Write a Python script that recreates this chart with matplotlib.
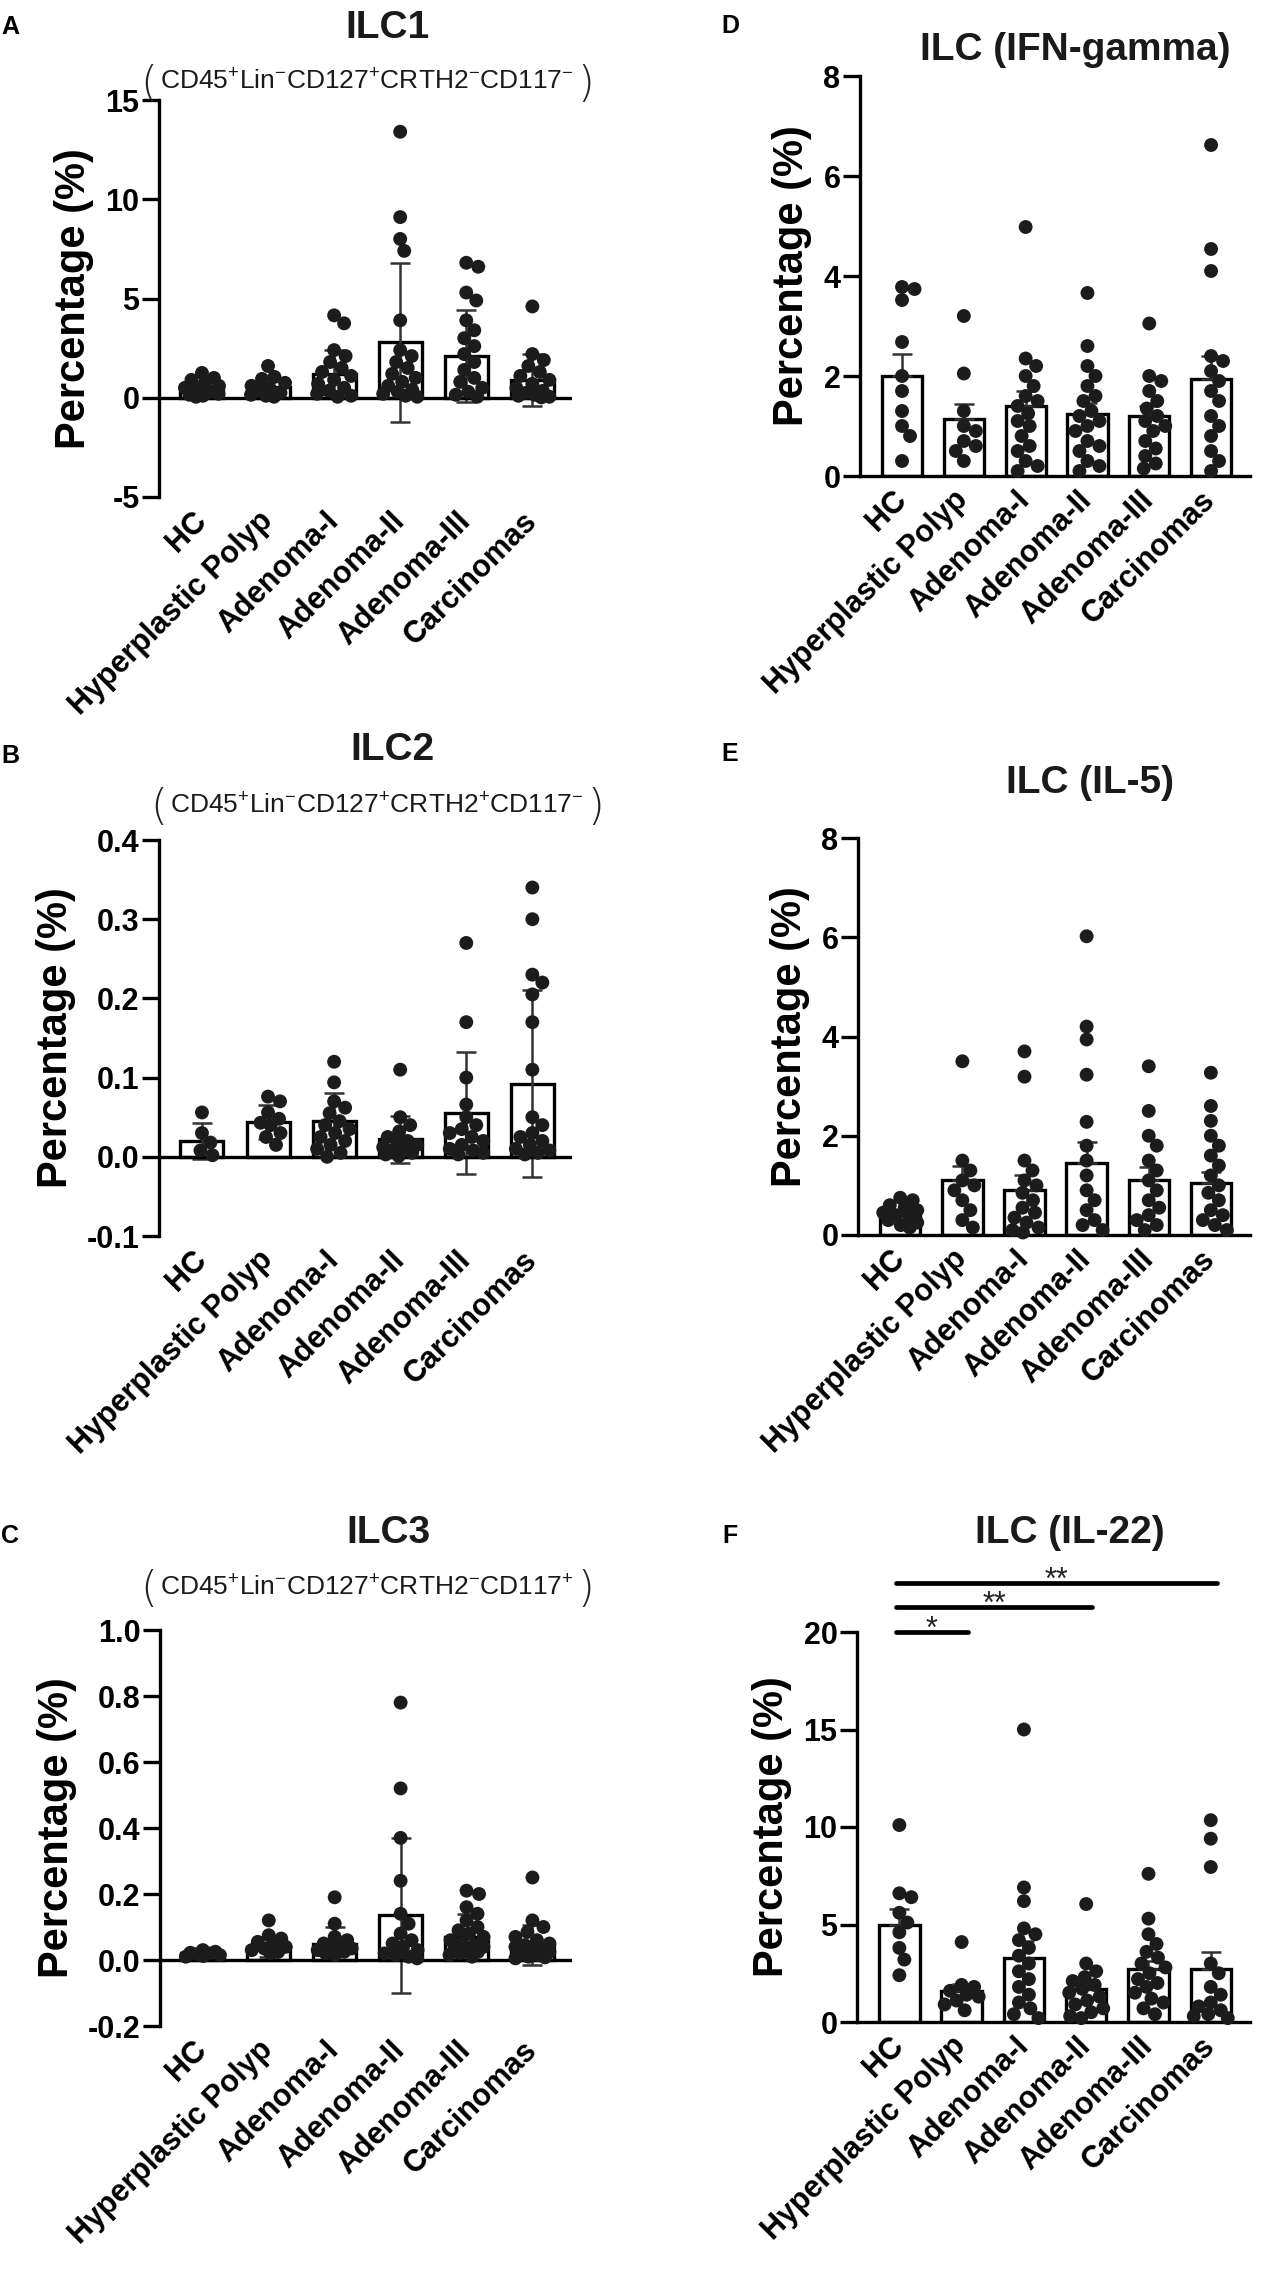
import matplotlib
matplotlib.use('Agg')
import matplotlib.pyplot as plt
import numpy as np

plt.rcParams['font.family'] = ['Liberation Sans', 'DejaVu Sans']
plt.rcParams['axes.unicode_minus'] = False
plt.rcParams['mathtext.fontset'] = 'custom'
plt.rcParams['mathtext.rm'] = 'Liberation Sans'
plt.rcParams['mathtext.it'] = 'Liberation Sans:italic'
plt.rcParams['mathtext.bf'] = 'Liberation Sans:bold'

# ---------------- data ----------------
categories = ['HC', 'Hyperplastic Polyp', 'Adenoma-I', 'Adenoma-II', 'Adenoma-III', 'Carcinomas']

# A  ILC1
ilc1_hc = [1.25, 1.0, 0.9, 0.75, 0.6, 0.5, 0.4, 0.3, 0.2, 0.15, 0.1, 0.05]
ilc1_hp = [1.6, 1.05, 0.95, 0.75, 0.6, 0.45, 0.35, 0.25, 0.15, 0.1, 0.05]
ilc1_a1 = [4.15, 3.75, 2.4, 2.1, 1.8, 1.5, 1.3, 1.1, 0.9, 0.7, 0.5, 0.35, 0.2, 0.1, 0.05]
ilc1_a2 = [13.4, 9.1, 8.0, 7.4, 3.9, 2.4, 2.1, 1.8, 1.5, 1.2, 1.0, 0.8, 0.6, 0.4, 0.3, 0.2, 0.1, 0.05]
ilc1_a3 = [6.8, 6.6, 5.3, 4.9, 3.9, 3.4, 3.0, 2.6, 2.2, 1.8, 1.4, 1.0, 0.8, 0.5, 0.3, 0.15, 0.05]
ilc1_ca = [4.6, 2.2, 1.9, 1.6, 1.3, 1.1, 0.9, 0.7, 0.5, 0.35, 0.25, 0.15, 0.1, 0.05, 0.02]
ilc1_mean = [0.5, 0.55, 1.2, 2.8, 2.1, 0.9]
ilc1_sd = [0.35, 0.45, 1.2, 4.0, 2.3, 1.3]

# B  ILC2
ilc2_hc = [0.056, 0.030, 0.018, 0.008, 0.002]
ilc2_hp = [0.076, 0.070, 0.056, 0.048, 0.043, 0.040, 0.030, 0.025, 0.015]
ilc2_a1 = [0.12, 0.094, 0.07, 0.062, 0.055, 0.045, 0.04, 0.035, 0.03, 0.025, 0.02, 0.015, 0.01, 0.005, 0.0]
ilc2_a2 = [0.11, 0.05, 0.04, 0.032, 0.025, 0.02, 0.018, 0.015, 0.012, 0.01, 0.008, 0.005, 0.003, 0.001]
ilc2_a3 = [0.27, 0.17, 0.10, 0.066, 0.05, 0.04, 0.035, 0.03, 0.025, 0.02, 0.015, 0.01, 0.008, 0.005, 0.003]
ilc2_ca = [0.34, 0.30, 0.23, 0.22, 0.205, 0.17, 0.11, 0.05, 0.04, 0.03, 0.025, 0.02, 0.015, 0.01, 0.008, 0.005, 0.003]
ilc2_mean = [0.02, 0.044, 0.045, 0.022, 0.055, 0.092]
ilc2_sd = [0.023, 0.022, 0.035, 0.03, 0.077, 0.118]

# C  ILC3
ilc3_hc = [0.03, 0.025, 0.022, 0.02, 0.018, 0.015, 0.012, 0.01]
ilc3_hp = [0.12, 0.075, 0.065, 0.055, 0.045, 0.04, 0.035, 0.03, 0.025, 0.02]
ilc3_a1 = [0.19, 0.11, 0.07, 0.06, 0.05, 0.045, 0.04, 0.035, 0.03, 0.025, 0.02, 0.015]
ilc3_a2 = [0.78, 0.52, 0.37, 0.24, 0.14, 0.11, 0.08, 0.06, 0.05, 0.04, 0.03, 0.02, 0.015, 0.01, 0.005]
ilc3_a3 = [0.21, 0.20, 0.16, 0.14, 0.12, 0.1, 0.09, 0.08, 0.07, 0.06, 0.05, 0.045, 0.04, 0.035, 0.03, 0.025, 0.02, 0.015, 0.01]
ilc3_ca = [0.25, 0.12, 0.1, 0.085, 0.07, 0.06, 0.05, 0.045, 0.04, 0.035, 0.03, 0.025, 0.02, 0.015, 0.01, 0.008, 0.005]
ilc3_mean = [0.02, 0.04, 0.05, 0.135, 0.07, 0.045]
ilc3_sd = [0.007, 0.03, 0.05, 0.235, 0.07, 0.06]

# D  ILC (IFN-gamma)
ifn_hc = [3.78, 3.74, 3.52, 2.68, 2.0, 1.7, 1.3, 1.0, 0.8, 0.3]
ifn_hp = [3.2, 2.05, 1.3, 1.0, 0.9, 0.7, 0.6, 0.5, 0.3]
ifn_a1 = [4.98, 2.35, 2.2, 2.0, 1.8, 1.6, 1.5, 1.4, 1.25, 1.1, 1.0, 0.8, 0.6, 0.5, 0.3, 0.2, 0.1]
ifn_a2 = [3.66, 2.6, 2.2, 2.0, 1.8, 1.6, 1.5, 1.3, 1.2, 1.1, 1.0, 0.9, 0.7, 0.6, 0.5, 0.3, 0.2, 0.1]
ifn_a3 = [3.05, 2.0, 1.9, 1.7, 1.5, 1.35, 1.2, 1.1, 1.0, 0.9, 0.7, 0.55, 0.4, 0.25, 0.15]
ifn_ca = [6.62, 4.54, 4.1, 2.4, 2.3, 2.1, 1.9, 1.7, 1.5, 1.2, 1.0, 0.8, 0.5, 0.3, 0.1]
ifn_mean = [2.0, 1.15, 1.4, 1.25, 1.2, 1.95]
ifn_sem = [0.45, 0.3, 0.3, 0.22, 0.2, 0.45]

# E  ILC (IL-5)
il5_hc = [0.75, 0.7, 0.6, 0.55, 0.5, 0.45, 0.4, 0.35, 0.3, 0.25, 0.2, 0.15]
il5_hp = [3.5, 1.5, 1.3, 1.1, 1.0, 0.9, 0.7, 0.5, 0.3, 0.15]
il5_a1 = [3.7, 3.19, 1.5, 1.3, 1.1, 1.0, 0.85, 0.7, 0.55, 0.45, 0.35, 0.25, 0.15, 0.1, 0.05]
il5_a2 = [6.02, 4.2, 3.94, 3.23, 2.28, 1.8, 1.5, 1.2, 0.9, 0.7, 0.5, 0.3, 0.2, 0.1]
il5_a3 = [3.4, 2.5, 2.0, 1.8, 1.5, 1.3, 1.1, 0.9, 0.7, 0.55, 0.4, 0.3, 0.2, 0.1]
il5_ca = [3.27, 2.6, 2.3, 2.0, 1.8, 1.6, 1.4, 1.2, 1.0, 0.85, 0.7, 0.5, 0.4, 0.3, 0.2, 0.1]
il5_mean = [0.4, 1.1, 0.9, 1.45, 1.1, 1.05]
il5_sem = [0.07, 0.3, 0.3, 0.42, 0.27, 0.22]

# F  ILC (IL-22)
il22_hc = [10.1, 6.6, 6.4, 5.6, 5.1, 4.6, 3.8, 3.2, 2.4]
il22_hp = [4.1, 1.9, 1.8, 1.6, 1.4, 1.3, 1.1, 0.9, 0.6]
il22_a1 = [15.0, 6.9, 6.2, 4.8, 4.5, 4.2, 3.8, 3.4, 3.0, 2.6, 2.2, 1.8, 1.4, 1.0, 0.7, 0.4, 0.2]
il22_a2 = [6.05, 3.0, 2.6, 2.3, 2.1, 1.9, 1.7, 1.5, 1.3, 1.1, 0.9, 0.7, 0.5, 0.3, 0.2]
il22_a3 = [7.6, 5.3, 4.5, 4.0, 3.6, 3.3, 3.0, 2.8, 2.5, 2.2, 2.0, 1.8, 1.5, 1.2, 1.0, 0.7, 0.4]
il22_ca = [10.35, 9.4, 7.95, 3.0, 2.5, 1.8, 1.4, 1.0, 0.8, 0.6, 0.4, 0.3, 0.2]
il22_mean = [5.0, 1.6, 3.3, 1.7, 2.7, 2.7]
il22_sem = [0.8, 0.35, 0.85, 0.35, 0.45, 0.9]

# significance comparisons in F: (group from, group to, label)
il22_sig = [(0, 1, '*'), (0, 3, '**'), (0, 5, '**')]
il22_sig_levels = [20.0, 21.3, 22.5]

# ---------------- figure ----------------
W, H = 1261, 2287
fig = plt.figure(figsize=(W / 100, H / 100), dpi=100)
fig.patch.set_facecolor('white')

DOT = '#1c1c1c'


def add_ax(left, top, right, bottom):
    return fig.add_axes([left / W, 1 - bottom / H, (right - left) / W, (bottom - top) / H])


def swarm(vals, ppx, ppy, d_px=13.5, max_half=17.0):
    vals = np.asarray(vals, float)
    order = np.argsort(-vals)
    cands = np.arange(-max_half, max_half + 0.01, 0.5)
    cands = cands[np.argsort(np.abs(cands) + 1e-3 * (cands < 0))]
    placed = []
    offs = np.zeros(len(vals))
    for i in order:
        y = vals[i] * ppy
        best, bestd = 0.0, -1
        for c in cands:
            if not placed:
                best = 0.0
                break
            md = min(np.hypot(c - px, y - py) for px, py in placed)
            if md >= d_px * 0.93:
                best = c
                break
            if md > bestd:
                bestd, best = md, c
        placed.append((best, y))
        offs[i] = best / ppx
    return offs


def panel(box, xlim, ylim, yticks, yfmt, groups, means, errs, both, zero_line):
    ax = add_ax(*box)
    ax.set_xlim(*xlim)
    ax.set_ylim(*ylim)
    ax.patch.set_alpha(0)
    wpx = box[2] - box[0]
    hpx = box[3] - box[1]
    ppx = wpx / (xlim[1] - xlim[0])
    ppy = hpx / (ylim[1] - ylim[0])
    xs = np.arange(len(groups))
    ax.bar(xs, means, width=0.65, facecolor='white', edgecolor='black', linewidth=2.4, zorder=2)
    if both:
        yerr = [errs, errs]
    else:
        yerr = [np.zeros(len(errs)), errs]
    ax.errorbar(xs, means, yerr=yerr, fmt='none', ecolor='#333333', elinewidth=1.8,
                capsize=7, capthick=1.8, zorder=3)
    for i, g in enumerate(groups):
        off = swarm(g, ppx, ppy)
        ax.scatter(i + off, g, s=100, c=DOT, edgecolors='none', zorder=4, clip_on=False)
    for s in ['top', 'right']:
        ax.spines[s].set_visible(False)
    ax.spines['left'].set_linewidth(2.4)
    if zero_line:
        ax.spines['bottom'].set_visible(False)
        ax.axhline(0, color='black', lw=2.4, zorder=3)
    else:
        ax.spines['bottom'].set_linewidth(2.4)
    ax.set_yticks(yticks)
    ax.set_yticklabels([yfmt.format(v) for v in yticks], fontsize=22, fontweight='bold')
    ax.tick_params(axis='y', length=12, width=2.4, pad=2)
    ax.set_xticks(xs)
    ax.set_xticklabels(categories, rotation=45, ha='right', va='center', rotation_mode='anchor',
                       fontsize=22, fontweight='bold')
    ax.tick_params(axis='x', length=0, pad=14)
    ax.set_ylabel('Percentage (%)', fontsize=30, fontweight='bold', labelpad=8)
    return ax


LX = (-0.65, 5.6)
RX = (-0.68, 5.63)

axA = panel((159, 100, 572, 497), LX, (-5, 15), [-5, 0, 5, 10, 15], '{:g}',
            [ilc1_hc, ilc1_hp, ilc1_a1, ilc1_a2, ilc1_a3, ilc1_ca], ilc1_mean, ilc1_sd, True, True)
axB = panel((159, 840, 572, 1236), LX, (-0.1, 0.4), [-0.1, 0.0, 0.1, 0.2, 0.3, 0.4], '{:.1f}',
            [ilc2_hc, ilc2_hp, ilc2_a1, ilc2_a2, ilc2_a3, ilc2_ca], ilc2_mean, ilc2_sd, True, True)
axC = panel((160, 1630, 572, 2026), LX, (-0.2, 1.0), [-0.2, 0.0, 0.2, 0.4, 0.6, 0.8, 1.0], '{:.1f}',
            [ilc3_hc, ilc3_hp, ilc3_a1, ilc3_a2, ilc3_a3, ilc3_ca], ilc3_mean, ilc3_sd, True, True)
axD = panel((860, 76, 1250, 476), RX, (0, 8), [0, 2, 4, 6, 8], '{:g}',
            [ifn_hc, ifn_hp, ifn_a1, ifn_a2, ifn_a3, ifn_ca], ifn_mean, ifn_sem, False, False)
axE = panel((858, 838, 1250, 1235), RX, (0, 8), [0, 2, 4, 6, 8], '{:g}',
            [il5_hc, il5_hp, il5_a1, il5_a2, il5_a3, il5_ca], il5_mean, il5_sem, False, False)
axF = panel((857, 1632, 1250, 2022), RX, (0, 20), [0, 5, 10, 15, 20], '{:g}',
            [il22_hc, il22_hp, il22_a1, il22_a2, il22_a3, il22_ca], il22_mean, il22_sem, False, False)

# significance bars
for (g0, g1, lab), lev in zip(il22_sig, il22_sig_levels):
    axF.plot([g0 - 0.05, g1 + 0.1], [lev, lev], color='black', lw=3.4, solid_capstyle='round',
             clip_on=False, zorder=5)
    axF.text((g0 + g1) / 2 + 0.02, lev - 0.3, lab, ha='center', va='baseline', fontsize=22,
             clip_on=False, color='#222222')


def ftext(x, y, s, **kw):
    return fig.text(x / W, 1 - y / H, s, **kw)


# panel letters
for lab, x, y in [('A', 10, 27), ('B', 10, 756), ('C', 10, 1536),
                  ('D', 730, 26), ('E', 730, 754), ('F', 730, 1536)]:
    ftext(x, y, lab, fontsize=18, fontweight='bold', ha='center', va='center')

# titles (baseline positions)
for s, x, y in [('ILC1', 388, 38), ('ILC2', 392, 760), ('ILC3', 388, 1543),
                ('ILC (IFN-gamma)', 1075, 60), ('ILC (IL-5)', 1090, 793), ('ILC (IL-22)', 1070, 1543)]:
    ftext(x, y, s, fontsize=28, fontweight='bold', ha='center', va='baseline', color='#1a1a1a')

# subtitles
subs = [(r'CD45$^{+}$Lin$^{-}$CD127$^{+}$CRTH2$^{-}$CD117$^{-}$', 367, 90),
        (r'CD45$^{+}$Lin$^{-}$CD127$^{+}$CRTH2$^{+}$CD117$^{-}$', 377, 813),
        (r'CD45$^{+}$Lin$^{-}$CD127$^{+}$CRTH2$^{-}$CD117$^{+}$', 367, 1595)]
fig.canvas.draw()
r = fig.canvas.get_renderer()
for s, x, y in subs:
    t = ftext(x, y, s, fontsize=19, ha='center', va='baseline', color='#1a1a1a')
    bb = t.get_window_extent(r)
    ftext(bb.x0 - 3, y + 7, '(', fontsize=31, ha='right', va='baseline', color='#222222',
          fontweight='light', family='DejaVu Sans')
    ftext(bb.x1 + 3, y + 7, ')', fontsize=31, ha='left', va='baseline', color='#222222',
          fontweight='light', family='DejaVu Sans')

fig.savefig('out.png', dpi=100, facecolor='white')
